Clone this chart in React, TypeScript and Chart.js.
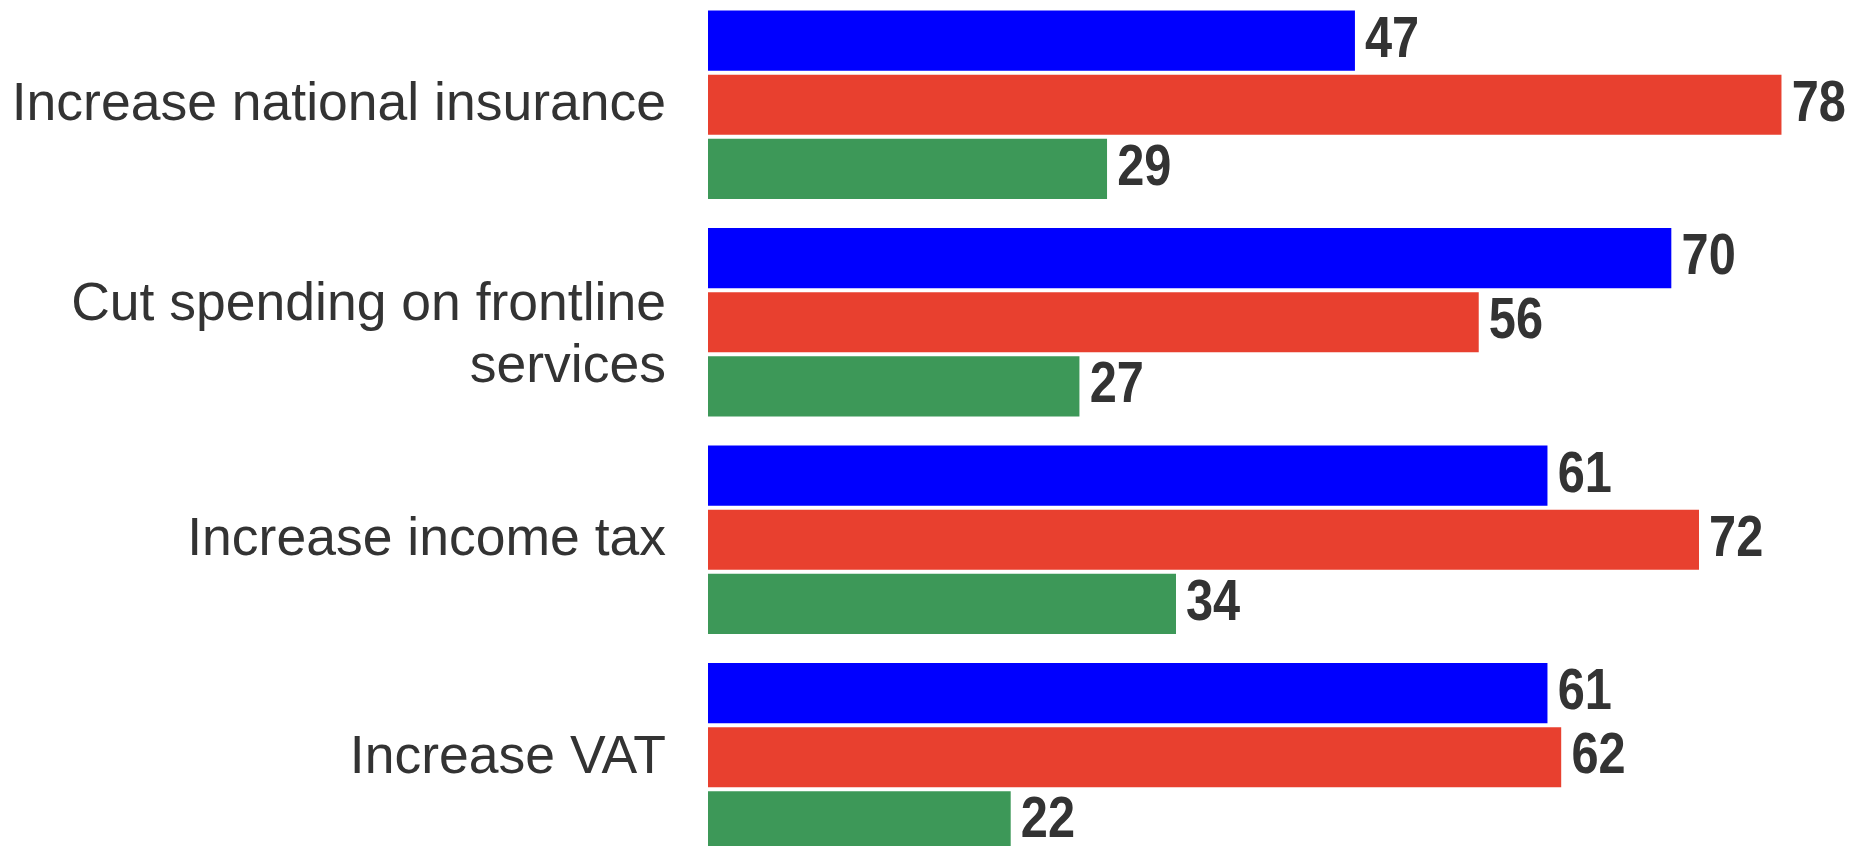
import React, { useEffect, useRef } from "react";
import { Chart, registerables } from "chart.js";

Chart.register(...registerables);

// ---- Data ----
const categories: (string | string[])[] = [
  "Increase national insurance",
  ["Cut spending on frontline", "services"],
  "Increase income tax",
  "Increase VAT",
];
const seriesNames = ["Series 1", "Series 2", "Series 3"];
const blueValues = [47, 70, 61, 61];
const redValues = [78, 56, 72, 62];
const greenValues = [29, 27, 34, 22];

// ---- Styles ----
const COLORS = ["#0000FF", "#E8402F", "#3D9858"];
const TEXT_COLOR = "#333333";
const CAT_FONT = '53.5px "Liberation Sans", Arial, Helvetica, sans-serif';
const VALUE_FONT = 'bold 58px "Liberation Sans", Arial, Helvetica, sans-serif';
const VALUE_SQUEEZE = 0.84;
const LABEL_PAD = 42;
const LINE_HEIGHT = 62;
const BASELINE_OFFSET = 15.5;
const BLOCK_SHIFT = 17.5;
const AXIS_WIDTH = 708;

const categoryLabelPlugin = {
  id: "categoryLabels",
  afterDraw(chart: any) {
    const yScale = chart.scales.y;
    const ctx: CanvasRenderingContext2D = chart.ctx;
    ctx.save();
    ctx.font = CAT_FONT;
    ctx.fillStyle = TEXT_COLOR;
    ctx.textAlign = "right";
    ctx.textBaseline = "alphabetic";
    const x = chart.chartArea.left - LABEL_PAD;
    (chart.data.labels as (string | string[])[]).forEach((label, i) => {
      const lines = Array.isArray(label) ? label : [label];
      const cy = yScale.getPixelForValue(i);
      const first = cy + BASELINE_OFFSET - (lines.length - 1) * BLOCK_SHIFT;
      lines.forEach((line, k) => ctx.fillText(line, x, first + k * LINE_HEIGHT));
    });
    ctx.restore();
  },
};

const valueLabelPlugin = {
  id: "valueLabels",
  afterDatasetsDraw(chart: any) {
    const ctx: CanvasRenderingContext2D = chart.ctx;
    chart.data.datasets.forEach((ds: any, di: number) => {
      const meta = chart.getDatasetMeta(di);
      meta.data.forEach((bar: any, j: number) => {
        const v = ds.data[j];
        ctx.save();
        ctx.translate(bar.x + 10, bar.y);
        ctx.scale(VALUE_SQUEEZE, 1);
        ctx.font = VALUE_FONT;
        ctx.fillStyle = TEXT_COLOR;
        ctx.textAlign = "left";
        ctx.textBaseline = "middle";
        ctx.fillText(String(v), 0, 0);
        ctx.restore();
      });
    });
  },
};

export default function App() {
  const canvasRef = useRef<HTMLCanvasElement | null>(null);

  useEffect(() => {
    document.body.style.margin = "0";
    const canvas = canvasRef.current;
    if (!canvas) return;
    const allValues = [blueValues, redValues, greenValues];
    const maxVal = Math.max(...allValues.flat());
    const chart = new Chart(canvas, {
      type: "bar",
      data: {
        labels: categories as any,
        datasets: allValues.map((vals, i) => ({
          label: seriesNames[i],
          data: vals,
          backgroundColor: COLORS[i],
          borderColor: "#FFFFFF",
          borderWidth: { top: 2, bottom: 2, left: 0, right: 0 },
          borderSkipped: false,
          categoryPercentage: 0.884,
          barPercentage: 1,
        })),
      },
      options: {
        indexAxis: "y",
        animation: false,
        responsive: true,
        maintainAspectRatio: false,
        layout: { padding: 0 },
        plugins: {
          legend: { display: false },
          tooltip: { enabled: false },
        },
        scales: {
          x: {
            display: false,
            min: 0,
            max: maxVal * 1.072,
          },
          y: {
            type: "category",
            grid: { display: false, drawTicks: false },
            border: { display: false },
            ticks: { display: false },
            afterFit: (scale: any) => {
              scale.width = AXIS_WIDTH;
            },
          },
        },
      },
      plugins: [categoryLabelPlugin, valueLabelPlugin],
    });
    return () => chart.destroy();
  }, []);

  return (
    <div
      style={{
        position: "fixed",
        left: 0,
        top: 0,
        width: 1859,
        height: 846,
        overflow: "hidden",
        background: "#FFFFFF",
      }}
    >
      <div style={{ position: "absolute", left: 0, top: -4, width: 1859, height: 870 }}>
        <canvas ref={canvasRef} />
      </div>
    </div>
  );
}
